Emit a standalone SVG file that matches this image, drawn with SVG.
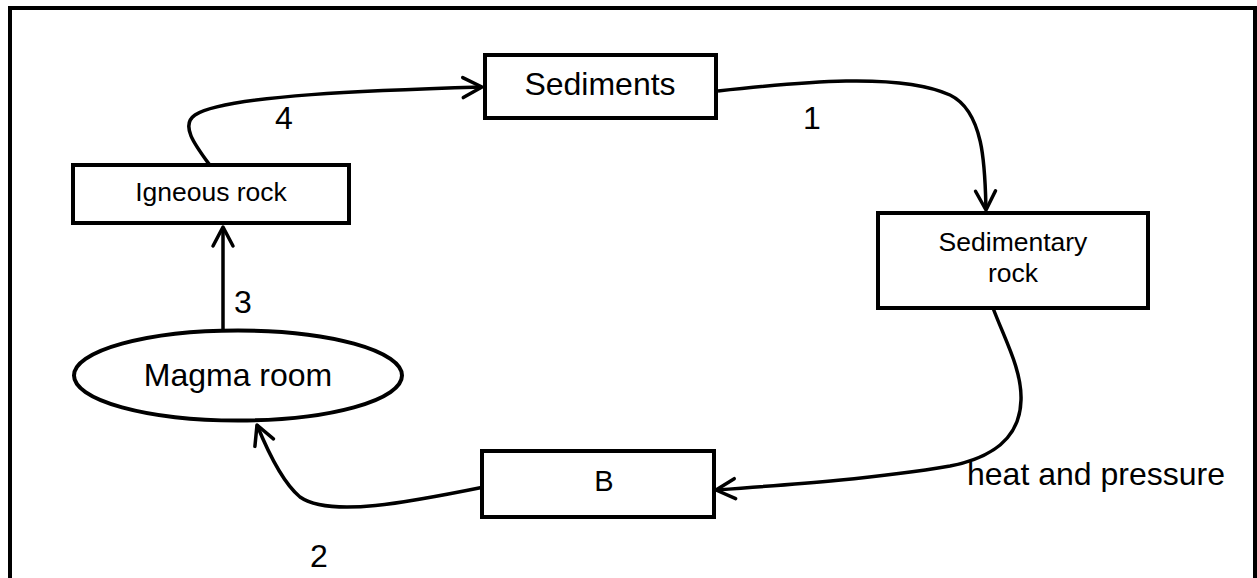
<svg xmlns="http://www.w3.org/2000/svg" width="1257" height="578" viewBox="0 0 1257 578">
<style>
.box{fill:#fff;stroke:#000;stroke-width:4}
.lbl{font-family:"Liberation Sans",Arial,sans-serif;fill:#000;text-anchor:middle}
.big{font-size:32px}
.sm{font-size:26.5px}
.con{fill:none;stroke:#000;stroke-width:3.5}
</style>
<defs>
<marker id="arr" markerUnits="userSpaceOnUse" markerWidth="30" markerHeight="30" refX="0" refY="0" viewBox="-22 -15 26 30" orient="auto" overflow="visible">
<path d="M-19,-10 L0,0 L-19,10" fill="none" stroke="#000" stroke-width="3.5" stroke-linecap="round" stroke-linejoin="round"/>
</marker>
</defs>
<rect width="1257" height="578" fill="#fff"/>
<path d="M10,578 V8 H1255 V578" fill="none" stroke="#000" stroke-width="4"/>
<g id="connectors">
<path class="con" d="M718,91 C800,82 900,72 950,95 C985,112 985,170 986,210" marker-end="url(#arr)"/>
<path class="con" d="M993,308 C1005,340 1022,370 1021,400 C1020,440 990,458 950,466 C880,478 800,484 716,490" marker-end="url(#arr)"/>
<path class="con" d="M484,487 C410,502 330,518 300,497 C282,482 268,452 257,425" marker-end="url(#arr)"/>
<path class="con" d="M223,330 V227" marker-end="url(#arr)"/>
<path class="con" d="M209,164 C195,145 180,125 195,115 C225,95 380,90 482,87" marker-end="url(#arr)"/>
<text class="lbl big" x="284" y="129">4</text>
<text class="lbl big" x="812" y="129">1</text>
<text class="lbl big" x="243" y="313">3</text>
<text class="lbl big" x="319" y="567">2</text>
<text class="lbl big" x="1096" y="485">heat and pressure</text>
</g>
<g id="sediments">
<rect class="box" x="485" y="55" width="231" height="63"/>
<text class="lbl big" x="600" y="95">Sediments</text>
</g>
<g id="sedimentary-rock">
<rect class="box" x="878" y="213" width="270" height="95"/>
<text class="lbl sm" x="1013" y="251">Sedimentary</text>
<text class="lbl sm" x="1013" y="282">rock</text>
</g>
<g id="b">
<rect class="box" x="482" y="451" width="232" height="66"/>
<text class="lbl" style="font-size:29px" x="604" y="491">B</text>
</g>
<g id="magma-room">
<ellipse class="box" cx="238" cy="375.5" rx="164" ry="45"/>
<text class="lbl big" x="238" y="386">Magma room</text>
</g>
<g id="igneous-rock">
<rect class="box" x="73" y="165" width="276" height="58"/>
<text class="lbl sm" x="211" y="201">Igneous rock</text>
</g>
</svg>
